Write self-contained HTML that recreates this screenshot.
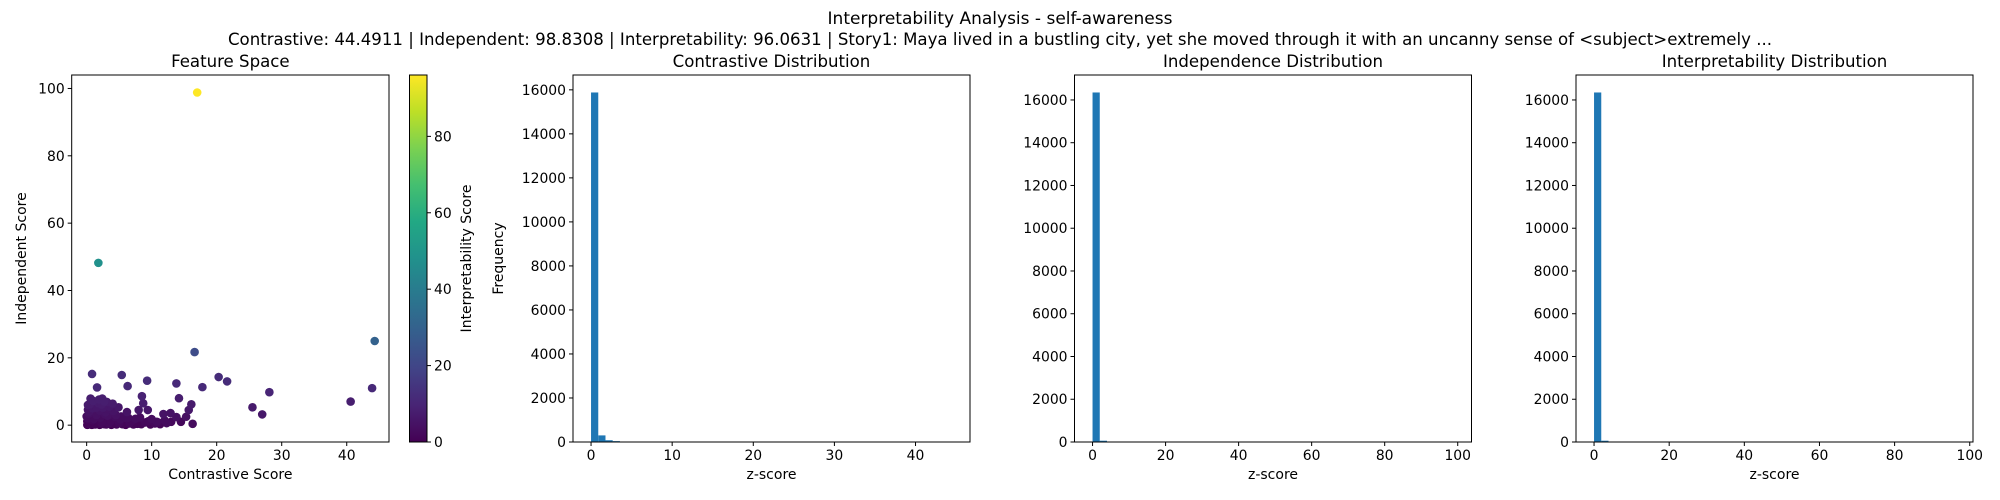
<!DOCTYPE html>
<html><head><meta charset="utf-8">
<style>
html,body{margin:0;padding:0;background:#fff;}
svg{display:block;font-family:"DejaVu Sans","Liberation Sans",sans-serif;}
</style></head>
<body>
<svg id="fig" width="2000" height="500" viewBox="0 0 2000 500">
<defs>
<linearGradient id="vir" x1="0" y1="1" x2="0" y2="0">
<stop offset="0" stop-color="#440154"/><stop offset="0.1" stop-color="#482475"/><stop offset="0.2" stop-color="#414487"/><stop offset="0.3" stop-color="#355f8d"/><stop offset="0.4" stop-color="#2a788e"/><stop offset="0.5" stop-color="#21918c"/><stop offset="0.6" stop-color="#22a884"/><stop offset="0.7" stop-color="#44bf70"/><stop offset="0.8" stop-color="#7ad151"/><stop offset="0.9" stop-color="#bddf26"/><stop offset="1" stop-color="#fde725"/>
</linearGradient>
</defs>
<text x="1000" y="24" text-anchor="middle" font-size="17">Interpretability Analysis - self-awareness</text>
<text x="1000" y="45" text-anchor="middle" font-size="16.6">Contrastive: 44.4911 | Independent: 98.8308 | Interpretability: 96.0631 | Story1: Maya lived in a bustling city, yet she moved through it with an uncanny sense of &lt;subject&gt;extremely ...</text>
<g id="layer"></g>
</svg>
<script>
// Scatter data
const scatterX = [17.0,1.8,44.3,16.6,0.83,5.4,1.6,6.3,9.3,13.8,14.2,17.8,20.3,21.6,25.5,27.0,28.1,40.6,43.9,16.3,16.1,15.7,15.3,13.8,12.9,11.8,12.3,10.8,9.4,8.5,8.7,8.0,4.9,6.2,2.4,0.6,3.1,
 0.1,0.3,0.5,0.8,1.0,1.3,1.6,2.0,2.3,2.7,3.0,3.4,3.8,4.2,4.6,5.0,5.5,6.0,6.6,7.2,7.8,8.4,9.0,9.8,10.5,11.3,0.2,0.6,1.1,1.5,2.1,2.6,3.2,3.7,4.4,5.2,6.1,7.0,0.4,0.9,1.4,2.2,2.9,3.5,4.1,0.2,0.7,1.2,1.8,2.5,3.3,14.5,12.0,10.0,
 0.1,0.4,0.9,1.7,2.4,3.1,0.3,1.2,2.0,2.8,3.6,4.5,5.3,6.4,7.5,8.2,0.0,0.5,1.0,1.9,2.7,4.0,0.2,0.8,1.5,2.3,3.0,13.0,11.0,9.5];
const scatterY = [98.8,48.2,25.0,21.7,15.2,14.9,11.2,11.6,13.2,12.4,8.0,11.3,14.3,13.0,5.3,3.2,9.8,7.0,11.0,0.4,6.2,4.5,2.5,2.4,3.6,3.3,0.6,1.0,4.5,8.6,6.5,4.5,5.3,3.9,7.9,7.9,6.9,
 0.1,0.2,0.3,0.1,0.5,0.2,0.4,0.1,0.6,0.3,0.2,0.5,0.1,0.4,0.2,0.6,0.3,0.1,0.5,0.2,0.4,0.3,0.8,0.2,0.5,0.3,2.0,2.5,1.8,3.0,2.2,1.5,2.8,1.2,2.4,1.7,2.1,1.3,4.0,5.0,3.5,4.6,3.8,5.5,4.2,6.0,6.8,5.8,6.5,5.2,4.8,1.0,1.4,1.8,
 1.2,1.0,1.4,0.9,1.1,0.8,3.4,3.9,4.3,3.2,2.9,3.0,2.6,2.2,1.9,2.3,2.6,6.2,7.2,7.6,7.0,6.4,4.6,5.8,5.2,6.1,4.9,1.0,0.8,1.2];
const scatterC = [96.06,48,30,22,12,12,11,11,12,11,8,11,12,12,7,6,10,8,11,3,7,6,4,4,5,5,3,3,6,9,8,6,6,5,8,8,7,
 0,1,1,0,1,1,1,0,2,1,1,2,0,1,1,2,1,0,2,1,1,1,2,1,2,1,3,3,3,4,3,2,4,2,3,3,3,2,5,6,4,5,5,6,5,7,7,6,7,6,5,2,3,3,
 1,1,2,1,2,1,4,4,5,4,3,4,3,3,3,3,3,7,8,8,8,7,5,6,6,7,5,2,2,2];
const scatterXTicks = [0,10,20,30,40];
const scatterYTicks = [0,20,40,60,80,100];
const cbarTicks = [0,20,40,60,80];
const cMax = 96.06;
// Histogram data (50 bins each)
const contrastiveCounts = [15880,300,80,40,20,12,8,6,5,4,3,3,2,2,2,1,1,1,1,2,1,1,1,0,1,0,0,0,0,0,0,1,0,0,0,0,0,0,0,0,0,0,0,0,0,1,0,0,0,1];
const independenceCounts = [16350,60,15,6,3,2,2,1,1,1,1,0,0,0,0,0,0,0,0,0,0,0,0,1,0,0,0,0,0,0,0,0,0,0,0,0,0,0,0,0,0,0,0,0,0,0,0,0,0,1];
const interpretabilityCounts = [16350,60,15,6,3,2,2,1,1,1,1,0,0,0,0,0,0,0,0,0,0,0,0,1,0,0,0,0,0,0,0,0,0,0,0,0,0,0,0,0,0,0,0,0,0,0,0,0,0,1];
const histMax = [44.4911,98.8308,96.0631];
const contrastiveTicksX = [0,10,20,30,40];
const independenceTicksX = [0,20,40,60,80,100];
const interpretabilityTicksX = [0,20,40,60,80,100];
const histTicksY = [0,2000,4000,6000,8000,10000,12000,14000,16000];

const NS="http://www.w3.org/2000/svg";
const layer=document.getElementById('layer');
function mk(tag,attrs,parent,txt){const e=document.createElementNS(NS,tag);for(const k in attrs)e.setAttribute(k,attrs[k]);if(txt!==undefined)e.textContent=txt;(parent||layer).appendChild(e);return e;}
const stops=["#440154","#482475","#414487","#355f8d","#2a788e","#21918c","#22a884","#44bf70","#7ad151","#bddf26","#fde725"];
function hex(h){return [1,3,5].map(i=>parseInt(h.substr(i,2),16));}
function viridis(t){t=Math.max(0,Math.min(1,t));const p=t*10,i=Math.min(9,Math.floor(p)),f=p-i;const a=hex(stops[i]),b=hex(stops[i+1]);return 'rgb('+a.map((v,k)=>Math.round(v+(b[k]-v)*f)).join(',')+')';}

const TOP=75,BOT=442;
function frame(x0,w,name){const r=mk('rect',{x:x0,y:TOP,width:w,height:BOT-TOP,fill:'none',stroke:'#000','stroke-width':1});}
function xticks(ticks,sx,name){ticks.forEach(t=>{const x=sx(t);const l=mk('line',{x1:x,x2:x,y1:BOT,y2:BOT+4,stroke:'#000'});const tx=mk('text',{x:x,y:BOT+18,'text-anchor':'middle','font-size':13.9},layer,String(t));});}
function yticks(ticks,sy,x0,name){ticks.forEach(t=>{const y=sy(t);const l=mk('line',{x1:x0-4,x2:x0,y1:y,y2:y,stroke:'#000'});const tx=mk('text',{x:x0-7,y:y+5,'text-anchor':'end','font-size':13.9},layer,String(t));});}
function label(x,y,s,name,rot,size){const a={x:x,y:y,'text-anchor':'middle','font-size':size||14};if(rot)a.transform='rotate(-90 '+x+' '+y+')';const t=mk('text',a,layer,s);}

// Scatter
(function(){
 const x0=71.7,x1=389,xmin=-2.3,xmax=46.5,ymin=-5.0,ymax=104.0;
 const sx=v=>x0+(v-xmin)/(xmax-xmin)*(x1-x0);
 const sy=v=>BOT-(v-ymin)/(ymax-ymin)*(BOT-TOP);
 const g=mk('g',{});
 const order=scatterC.map((c,i)=>i).sort((a,b)=>scatterC[a]-scatterC[b]);
 order.forEach(i=>{const c=mk('circle',{cx:sx(scatterX[i]),cy:sy(scatterY[i]),r:4.3,fill:viridis(scatterC[i]/cMax)},g);});
 frame(x0,x1-x0,'scatter-axes-frame');
 xticks(scatterXTicks,sx,'scatter-x');yticks(scatterYTicks,sy,x0,'scatter-y');
 label((x0+x1)/2,67,'Feature Space','scatter-title',false,16.6);
 label((x0+x1)/2,479,'Contrastive Score','scatter-x-axis-title');
 label(26,(TOP+BOT)/2,'Independent Score','scatter-y-axis-title',true);
 // colorbar
 const cx0=409.5,cw=17.5;
 const cb=mk('rect',{x:cx0,y:TOP,width:cw,height:BOT-TOP,fill:'url(#vir)',stroke:'#000','stroke-width':1});
 const cy=v=>BOT-v/cMax*(BOT-TOP);
 cbarTicks.forEach(t=>{const y=cy(t);const l=mk('line',{x1:cx0+cw,x2:cx0+cw+4,y1:y,y2:y,stroke:'#000'});const tx=mk('text',{x:cx0+cw+7,y:y+5,'font-size':13.9},layer,String(t));});
 label(471,(TOP+BOT)/2,'Interpretability Score','colorbar-title',true);
})();

function hist(x0,counts,vmax,ticksX,title,key,ylab){
 const w=397,x1=x0+w;const pad=vmax*0.05;const xmin=-pad,xmax=vmax+pad;
 const sx=v=>x0+(v-xmin)/(xmax-xmin)*w;
 const cmax=Math.max(...counts)*1.05;const sy=v=>BOT-v/cmax*(BOT-TOP);
 const bw=vmax/counts.length;
 const g=mk('g',{});
 counts.forEach((c,i)=>{if(c<=0)return;const xa=sx(i*bw),xb=sx((i+1)*bw);const r=mk('rect',{x:xa,y:sy(c),width:xb-xa,height:BOT-sy(c),fill:'#1f77b4'},g);});
 frame(x0,w,key+'-axes-frame');
 xticks(ticksX,sx,key+'-x');yticks(histTicksY,sy,x0,key+'-y');
 label(x0+w/2,67,title,key+'-title',false,16.6);
 label(x0+w/2,479,'z-score',key+'-x-axis-title');
 if(ylab)label(x0-70,(TOP+BOT)/2,ylab,key+'-y-axis-title',true);
}
hist(573,contrastiveCounts,histMax[0],contrastiveTicksX,'Contrastive Distribution','contrastive-hist','Frequency');
hist(1074.5,independenceCounts,histMax[1],independenceTicksX,'Independence Distribution','independence-hist');
hist(1576,interpretabilityCounts,histMax[2],interpretabilityTicksX,'Interpretability Distribution','interpretability-hist');
</script>
</body></html>
